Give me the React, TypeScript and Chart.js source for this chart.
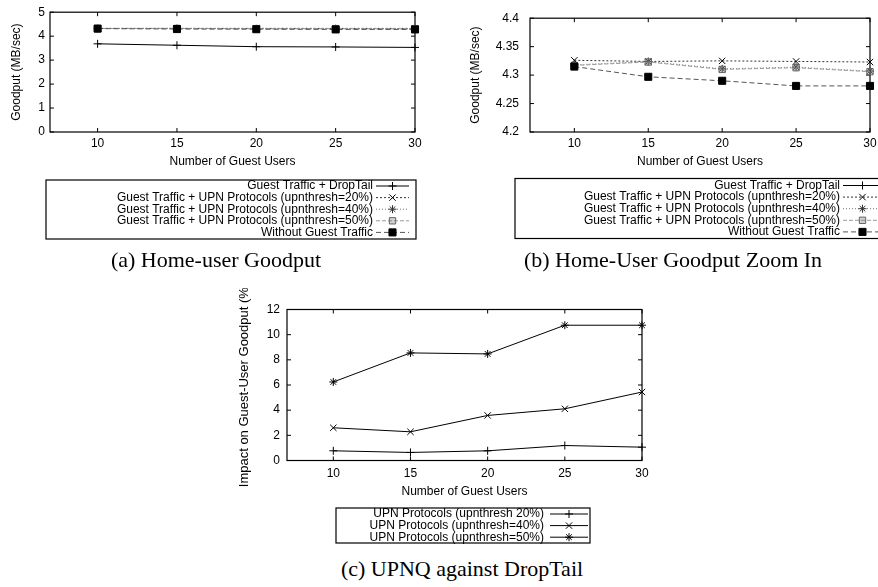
import React, { useEffect, useRef } from 'react';
import { Chart, registerables } from 'chart.js';

Chart.register(...registerables);

// ---------------- data ----------------
const guestUsers = [10, 15, 20, 25, 30];
const xTicks = [10, 15, 20, 25, 30];

const dropTail = [3.68, 3.62, 3.56, 3.55, 3.53];
const upn20 = [4.326, 4.324, 4.325, 4.324, 4.323];
const upn40 = [4.318, 4.324, 4.311, 4.314, 4.307];
const upn50 = [4.317, 4.323, 4.31, 4.313, 4.306];
const withoutGuest = [4.315, 4.297, 4.29, 4.281, 4.281];

const impact20 = [0.77, 0.64, 0.77, 1.19, 1.06];
const impact40 = [2.6, 2.28, 3.58, 4.11, 5.44];
const impact50 = [6.24, 8.55, 8.47, 10.75, 10.75];

const yTicksA = [0, 1, 2, 3, 4, 5];
const yTicksB = [4.2, 4.25, 4.3, 4.35, 4.4];
const yTicksC = [0, 2, 4, 6, 8, 10, 12];

const homeLabels = [
  'Guest Traffic + DropTail',
  'Guest Traffic + UPN Protocols (upnthresh=20%)',
  'Guest Traffic + UPN Protocols (upnthresh=40%)',
  'Guest Traffic + UPN Protocols (upnthresh=50%)',
  'Without Guest Traffic',
];
const impactLabels = [
  'UPN Protocols (upnthresh 20%)',
  'UPN Protocols (upnthresh=40%)',
  'UPN Protocols (upnthresh=50%)',
];

const captions = [
  '(a) Home-user Goodput',
  '(b) Home-User Goodput Zoom In',
  '(c) UPNQ against DropTail',
];

const xTitle = 'Number of Guest Users';
const yTitleHome = 'Goodput (MB/sec)';
const yTitleImpact = 'Impact on Guest-User Goodput (%)';

// ---------------- styles ----------------
const SANS = '"Liberation Sans", Arial, Helvetica, sans-serif';

const homeStyles = [
  { line: '#000', dash: [], marker: 'cross', r: 4, mColor: '#000', fill: 'rgba(0,0,0,0)', order: 4 },
  { line: '#333', dash: [2, 2], marker: 'crossRot', r: 4.5, mColor: '#000', fill: 'rgba(0,0,0,0)', order: 3 },
  { line: '#777', dash: [1, 2], marker: 'star', r: 4, mColor: '#333', fill: 'rgba(0,0,0,0)', order: 2 },
  { line: '#999', dash: [4, 2], marker: 'rect', r: 4.5, mColor: '#666', fill: 'rgba(120,120,120,0.35)', order: 1 },
  { line: '#555', dash: [5, 3], marker: 'rect', r: 5, mColor: '#000', fill: '#000', order: 0 },
];
const impactStyles = [
  { line: '#000', dash: [], marker: 'cross', r: 4, mColor: '#000', fill: 'rgba(0,0,0,0)', order: 2 },
  { line: '#000', dash: [], marker: 'crossRot', r: 4.5, mColor: '#000', fill: 'rgba(0,0,0,0)', order: 1 },
  { line: '#000', dash: [], marker: 'star', r: 4, mColor: '#000', fill: 'rgba(0,0,0,0)', order: 0 },
];

function buildDatasets(labels: string[], series: number[][], styles: any[]) {
  return series.map((vals, i) => {
    const s = styles[i];
    return {
      label: labels[i],
      data: guestUsers.map((x, j) => ({ x, y: vals[j] })),
      borderColor: s.line,
      borderWidth: 1,
      borderDash: s.dash,
      pointStyle: s.marker,
      pointRadius: s.r,
      pointBorderColor: s.mColor,
      pointBackgroundColor: s.fill,
      pointBorderWidth: 1,
      fill: false,
      tension: 0,
      order: s.order,
      clip: false,
    };
  });
}

function drawMarker(ctx: CanvasRenderingContext2D, style: string, x: number, y: number, r: number, stroke: string, fill: string) {
  ctx.save();
  ctx.setLineDash([]);
  ctx.strokeStyle = stroke;
  ctx.lineWidth = 1;
  ctx.beginPath();
  if (style === 'cross' || style === 'star') {
    ctx.moveTo(x - r, y);
    ctx.lineTo(x + r, y);
    ctx.moveTo(x, y - r);
    ctx.lineTo(x, y + r);
  }
  if (style === 'crossRot' || style === 'star') {
    const d = r * Math.SQRT1_2;
    ctx.moveTo(x - d, y - d);
    ctx.lineTo(x + d, y + d);
    ctx.moveTo(x - d, y + d);
    ctx.lineTo(x + d, y - d);
  }
  if (style === 'rect') {
    const s = r * Math.SQRT1_2;
    ctx.fillStyle = fill;
    ctx.fillRect(x - s, y - s, 2 * s, 2 * s);
    ctx.rect(x - s, y - s, 2 * s, 2 * s);
  }
  ctx.stroke();
  ctx.restore();
}

const framePlugin = {
  id: 'gnuFrame',
  beforeDatasetsDraw(chart: any) {
    const { ctx, chartArea: a, scales } = chart;
    ctx.save();
    ctx.setLineDash([]);
    ctx.strokeStyle = '#000';
    ctx.lineWidth = 1.2;
    ctx.strokeRect(a.left, a.top, a.right - a.left, a.bottom - a.top);
    const t = 4;
    ctx.lineWidth = 1;
    ctx.beginPath();
    scales.x.ticks.forEach((tk: any) => {
      const px = scales.x.getPixelForValue(tk.value);
      ctx.moveTo(px, a.bottom);
      ctx.lineTo(px, a.bottom - t);
      ctx.moveTo(px, a.top);
      ctx.lineTo(px, a.top + t);
    });
    scales.y.ticks.forEach((tk: any) => {
      const py = scales.y.getPixelForValue(tk.value);
      ctx.moveTo(a.left, py);
      ctx.lineTo(a.left + t, py);
      ctx.moveTo(a.right, py);
      ctx.lineTo(a.right - t, py);
    });
    ctx.stroke();
    ctx.restore();
  },
};

const boxLegendPlugin = {
  id: 'boxLegend',
  afterDraw(chart: any, _args: any, opts: any) {
    if (!opts || !opts.box) return;
    const ctx: CanvasRenderingContext2D = chart.ctx;
    const { box, textRight, sampleX0, sampleX1, rowY0, rowH } = opts;
    ctx.save();
    ctx.setLineDash([]);
    ctx.strokeStyle = '#000';
    ctx.lineWidth = 1.2;
    ctx.strokeRect(box[0], box[1], box[2] - box[0], box[3] - box[1]);
    ctx.font = '12px ' + SANS;
    ctx.textAlign = 'right';
    ctx.textBaseline = 'middle';
    ctx.fillStyle = '#000';
    chart.data.datasets.forEach((ds: any, i: number) => {
      const y = rowY0 + i * rowH;
      ctx.fillText(ds.label, textRight, y);
      ctx.save();
      ctx.strokeStyle = ds.borderColor;
      ctx.lineWidth = ds.borderWidth;
      ctx.setLineDash(ds.borderDash || []);
      ctx.beginPath();
      ctx.moveTo(sampleX0, y);
      ctx.lineTo(sampleX1, y);
      ctx.stroke();
      ctx.restore();
      drawMarker(ctx, ds.pointStyle, (sampleX0 + sampleX1) / 2, y, ds.pointRadius, ds.pointBorderColor, ds.pointBackgroundColor);
    });
    ctx.restore();
  },
};

interface PanelSpec {
  left: number;
  top: number;
  width: number;
  height: number;
  area: { l: number; t: number; r: number; b: number };
  yMin: number;
  yMax: number;
  yTicks: number[];
  yTitle: string;
  yTitleSize: number;
  yTitlePad: number;
  yTickPad: number;
  xTickPad: number;
  xTitlePad: number;
  legend: any;
  datasets: any[];
}

const X_AXIS_H = 45;

function makeConfig(p: PanelSpec): any {
  return {
    type: 'line',
    data: { datasets: p.datasets },
    plugins: [framePlugin, boxLegendPlugin],
    options: {
      responsive: false,
      animation: false,
      devicePixelRatio: 1,
      layout: {
        autoPadding: false,
        padding: {
          left: 0,
          top: p.area.t,
          right: p.width - p.area.r,
          bottom: p.height - p.area.b - X_AXIS_H,
        },
      },
      plugins: {
        legend: { display: false },
        tooltip: { enabled: false },
        title: { display: false },
        boxLegend: p.legend,
      },
      scales: {
        x: {
          type: 'linear',
          min: 7,
          max: 30,
          grid: { display: false, drawTicks: false },
          border: { display: false },
          afterBuildTicks: (axis: any) => {
            axis.ticks = xTicks.map((value) => ({ value }));
          },
          afterFit: (axis: any) => {
            axis.height = X_AXIS_H;
          },
          ticks: {
            color: '#000',
            padding: p.xTickPad,
            maxRotation: 0,
            autoSkip: false,
            font: { family: SANS, size: 12 },
            callback: (v: any) => String(v),
          },
          title: {
            display: true,
            text: xTitle,
            color: '#000',
            font: { family: SANS, size: 12 },
            padding: { top: 0, bottom: p.xTitlePad },
          },
        },
        y: {
          type: 'linear',
          min: p.yMin,
          max: p.yMax,
          grid: { display: false, drawTicks: false },
          border: { display: false },
          afterBuildTicks: (axis: any) => {
            axis.ticks = p.yTicks.map((value) => ({ value }));
          },
          afterFit: (axis: any) => {
            axis.width = p.area.l;
          },
          ticks: {
            color: '#000',
            padding: p.yTickPad,
            autoSkip: false,
            font: { family: SANS, size: 12 },
            callback: (v: any) => String(v),
          },
          title: {
            display: true,
            text: p.yTitle,
            color: '#000',
            font: { family: SANS, size: p.yTitleSize },
            padding: { top: p.yTitlePad, bottom: 0 },
          },
        },
      },
    },
  };
}

const panels: PanelSpec[] = [
  {
    left: 0,
    top: 0,
    width: 440,
    height: 250,
    area: { l: 50, t: 5, r: 415, b: 132 },
    yMin: 0,
    yMax: 5,
    yTicks: yTicksA,
    yTitle: yTitleHome,
    yTitleSize: 12,
    yTitlePad: 9.3,
    yTickPad: 5,
    xTickPad: 4.3,
    xTitlePad: 7.8,
    legend: { box: [46, 180, 416, 239], textRight: 373, sampleX0: 376, sampleX1: 409, rowY0: 186, rowH: 11.6 },
    datasets: buildDatasets(homeLabels, [dropTail, upn20, upn40, upn50, withoutGuest], homeStyles),
  },
  {
    left: 440,
    top: 0,
    width: 460,
    height: 250,
    area: { l: 90, t: 5, r: 430, b: 132 },
    yMin: 4.2,
    yMax: 4.4,
    yTicks: yTicksB,
    yTitle: yTitleHome,
    yTitleSize: 12,
    yTitlePad: 28.3,
    yTickPad: 11,
    xTickPad: 4.3,
    xTitlePad: 7.8,
    legend: { box: [75, 178.5, 470, 238.5], textRight: 400, sampleX0: 403, sampleX1: 442, rowY0: 185.5, rowH: 11.6 },
    datasets: buildDatasets(homeLabels, [dropTail, upn20, upn40, upn50, withoutGuest], homeStyles),
  },
  {
    left: 220,
    top: 288,
    width: 440,
    height: 265,
    area: { l: 67, t: 21.5, r: 422, b: 172.5 },
    yMin: 0,
    yMax: 12,
    yTicks: yTicksC,
    yTitle: yTitleImpact,
    yTitleSize: 13,
    yTitlePad: 16.7,
    yTickPad: 7,
    xTickPad: 5.6,
    xTitlePad: 6.3,
    legend: { box: [116, 220, 370, 255], textRight: 324, sampleX0: 330, sampleX1: 368, rowY0: 226, rowH: 11.6 },
    datasets: buildDatasets(impactLabels, [impact20, impact40, impact50], impactStyles),
  },
];

const captionPos = [
  { cx: 216, cy: 260 },
  { cx: 673, cy: 260 },
  { cx: 462, cy: 569 },
];

function Panel({ spec }: { spec: PanelSpec }) {
  const ref = useRef<HTMLCanvasElement | null>(null);
  useEffect(() => {
    if (!ref.current) return;
    const chart = new Chart(ref.current, makeConfig(spec));
    return () => chart.destroy();
  }, [spec]);
  return (
    <canvas
      ref={ref}
      width={spec.width}
      height={spec.height}
      style={{ position: 'absolute', left: spec.left, top: spec.top, width: spec.width, height: spec.height }}
    />
  );
}

export default function App() {
  return (
    <div
      style={{
        position: 'fixed',
        left: 0,
        top: 0,
        width: 878,
        height: 587,
        overflow: 'hidden',
        background: '#fff',
      }}
    >
      {panels.map((p, i) => (
        <Panel key={i} spec={p} />
      ))}
      {captions.map((c, i) => (
        <div
          key={'c' + i}
          style={{
            position: 'absolute',
            left: captionPos[i].cx - 250,
            top: captionPos[i].cy - 13,
            width: 500,
            height: 26,
            lineHeight: '26px',
            textAlign: 'center',
            fontFamily: '"Liberation Serif", "Times New Roman", serif',
            fontSize: 22,
            color: '#000',
            whiteSpace: 'nowrap',
          }}
        >
          {c}
        </div>
      ))}
    </div>
  );
}
